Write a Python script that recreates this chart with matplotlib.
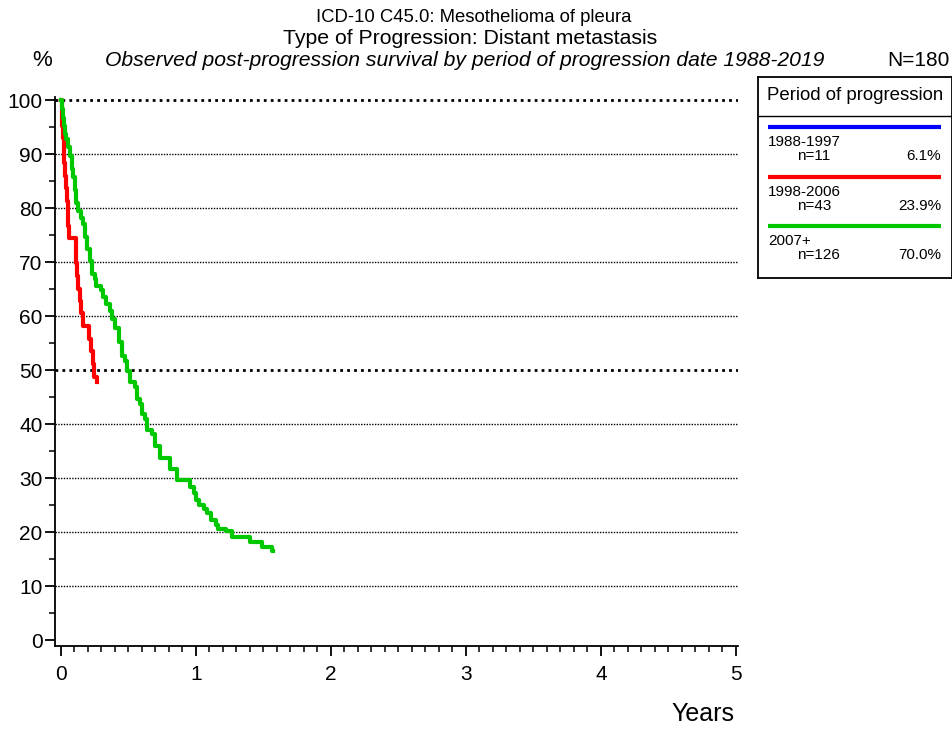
import matplotlib
matplotlib.use("Agg")
import matplotlib.pyplot as plt
from matplotlib.ticker import MultipleLocator

plt.rcParams['font.family'] = ['Liberation Sans', 'DejaVu Sans']

# Kaplan-Meier step vertices: time in years, survival (%) after each drop
red_t = [0, 0.005, 0.012, 0.02, 0.025, 0.03, 0.035, 0.045, 0.05, 0.055, 0.062,
         0.11, 0.115, 0.12, 0.125, 0.14, 0.148, 0.165, 0.205, 0.225, 0.235, 0.245, 0.265]
red_s = [100, 95.3, 93.0, 90.7, 88.4, 86.0, 83.7, 81.4, 79.1, 76.7, 74.4,
         72.1, 69.8, 67.4, 65.1, 62.8, 60.5, 58.1, 55.8, 53.5, 51.2, 48.8, 47.8]

green_t = [0, 0.005, 0.012, 0.02, 0.028, 0.04, 0.055, 0.067, 0.08, 0.092, 0.105,
           0.115, 0.13, 0.15, 0.165, 0.175, 0.19, 0.215, 0.228, 0.25, 0.262, 0.3, 0.31,
           0.335, 0.36, 0.375, 0.4, 0.43, 0.45, 0.474, 0.489, 0.511, 0.548, 0.563,
           0.585, 0.6, 0.622, 0.637, 0.674, 0.696, 0.733, 0.807, 0.86, 0.956, 0.985,
           1.0, 1.02, 1.06, 1.085, 1.115, 1.15, 1.163, 1.22, 1.267, 1.4, 1.49, 1.565, 1.57]
green_s = [100, 98.4, 96.8, 95.2, 93.7, 92.9, 91.3, 89.7, 87.3, 85.7, 83.3,
           81.0, 79.4, 78.2, 77.0, 74.6, 72.5, 70.2, 67.8, 66.9, 65.5, 64.9, 63.5,
           62.3, 61.0, 59.5, 57.8, 55.2, 52.6, 51.7, 49.8, 47.8, 46.8, 44.6,
           43.8, 41.8, 41.0, 39.0, 38.1, 35.9, 33.8, 31.6, 29.7, 28.4, 27.2,
           26.0, 25.1, 24.3, 23.5, 22.3, 21.4, 20.6, 20.2, 19.1, 18.2, 17.3, 16.5, 16.5]

periods = ["1988-1997", "1998-2006", "2007+"]
counts = [11, 43, 126]
shares = ["6.1%", "23.9%", "70.0%"]
colors = ["#0000FF", "#FF0000", "#00C800"]

W, H = 953, 729
fig = plt.figure(figsize=(W / 100, H / 100), dpi=100)


def fx(px):
    return px / W


def fy(py):
    return 1 - py / H


ax = fig.add_axes([fx(55), fy(646), fx(738) - fx(55), fy(97) - fy(646)])
ax.set_xlim(-0.044, 5.015)
ax.set_ylim(-1.1, 100.6)

for v in range(10, 101, 10):
    heavy = v in (50, 100)
    ax.axhline(v, color="black", lw=2.0 if heavy else 1.0,
               ls=(0, (1, 1.5)) if heavy else (0, (1, 1)), zorder=1)

ax.step(red_t, red_s, where="post", color=colors[1], lw=3, zorder=3)
ax.step(green_t, green_s, where="post", color=colors[2], lw=3, zorder=3)

for side in ("top", "right"):
    ax.spines[side].set_visible(False)
ax.spines["left"].set_linewidth(1.3)
ax.spines["bottom"].set_linewidth(1.3)

ax.yaxis.set_major_locator(MultipleLocator(10))
ax.yaxis.set_minor_locator(MultipleLocator(5))
ax.xaxis.set_major_locator(MultipleLocator(1))
ax.xaxis.set_minor_locator(MultipleLocator(0.1))
ax.tick_params(axis="both", which="major", length=7, width=1.3, labelsize=15)
ax.tick_params(axis="both", which="minor", length=4, width=1.1)
ax.tick_params(axis="x", which="major", pad=7)
ax.tick_params(axis="y", which="major", pad=2)

fig.text(fx(734), fy(714), "Years", ha="right", va="center", fontsize=18)
fig.text(fx(42), fy(61), "%", ha="center", va="center", fontsize=16)
fig.text(fx(950), fy(61), "N=180", ha="right", va="center", fontsize=15)
fig.text(fx(474), fy(17), "ICD-10 C45.0: Mesothelioma of pleura",
         ha="center", va="center", fontsize=13.3)
fig.text(fx(470), fy(38), "Type of Progression: Distant metastasis",
         ha="center", va="center", fontsize=15.3)
fig.text(fx(465), fy(61), "Observed post-progression survival by period of progression date 1988-2019",
         ha="center", va="center", fontsize=15.2, style="italic")

# Legend panel
lg = fig.add_axes([fx(758), fy(278), fx(952) - fx(758), fy(77) - fy(278)])
lg.set_xlim(758, 952)
lg.set_ylim(278, 77)
lg.set_xticks([])
lg.set_yticks([])
for s in lg.spines.values():
    s.set_linewidth(1.3)
lg.axhline(116, color="black", lw=1.0)
lg.text(855, 96, "Period of progression", ha="center", va="center", fontsize=13.4)
for i, (p, n, sh, c) in enumerate(zip(periods, counts, shares, colors)):
    y0 = 127 + i * 49.5
    lg.plot([768, 941], [y0, y0], color=c, lw=3, solid_capstyle="butt")
    lg.text(768, y0 + 15, p, ha="left", va="center", fontsize=11)
    lg.text(797, y0 + 29, f"n={n}", ha="left", va="center", fontsize=11)
    lg.text(941, y0 + 29, sh, ha="right", va="center", fontsize=11)

fig.savefig("out.png", dpi=100)
